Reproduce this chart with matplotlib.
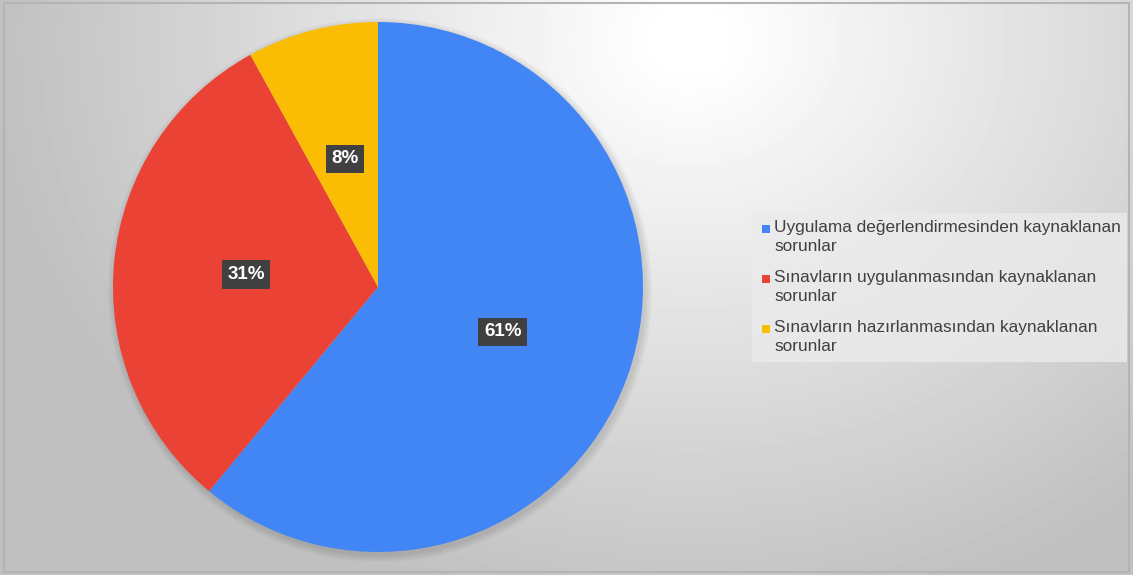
import numpy as np
import matplotlib.pyplot as plt
from matplotlib.patches import Rectangle, Circle

plt.rcParams['font.family'] = ['Liberation Sans', 'DejaVu Sans']

# Daten
kategorien = [
    "Uygulama değerlendirmesinden kaynaklanan\nsorunlar",
    "Sınavların uygulanmasından kaynaklanan\nsorunlar",
    "Sınavların hazırlanmasından kaynaklanan\nsorunlar",
]
anteile = [61, 31, 8]
farben = ['#4285F4', '#EA4335', '#FBBC04']

W, H = 1133, 575
fig = plt.figure(figsize=(W / 100, H / 100), dpi=100)
ax = fig.add_axes([0, 0, 1, 1])
ax.set_xlim(0, W)
ax.set_ylim(0, H)
ax.set_aspect('equal')
ax.axis('off')

# Hintergrund mit radialem Verlauf (hell oben Mitte-rechts)
xx, yy = np.meshgrid(np.arange(W), np.arange(H))
dist = np.sqrt((xx - 690) ** 2 + ((yy - 40) / 0.85) ** 2)
grau = np.clip(258 - dist * 0.095, 192, 255) / 255
ax.imshow(grau, cmap='gray', vmin=0, vmax=1, extent=[0, W, 0, H], origin='upper', zorder=0)
ax.add_patch(Rectangle((4, 3), W - 8, H - 6, fill=False, edgecolor='#b4b4b4', lw=1.5, zorder=1))

# weicher Schatten
cx, cy, r = 378, H - 287, 265
for i in range(5):
    ax.add_patch(Circle((cx + 2, cy - 3), r + 1 + i * 1.5, color='black', alpha=0.025, lw=0, zorder=1))

wedges, _, autotexts = ax.pie(anteile, colors=farben, startangle=90, counterclock=False,
                              center=(cx, cy), radius=r, autopct='%1.0f%%', pctdistance=0.5,
                              wedgeprops=dict(linewidth=0),
                              textprops=dict(color='white', fontsize=13.5, fontweight='bold'))
for t in autotexts:
    t.set_bbox(dict(boxstyle='square,pad=0.3', facecolor='#404040', edgecolor='none'))
ax.set_xlim(0, W)
ax.set_ylim(0, H)

# Legende
ax.add_patch(Rectangle((752, H - 362), 375, 149, facecolor='#ebebeb', edgecolor='none', alpha=0.8, zorder=2))
for i, (name, farbe) in enumerate(zip(kategorien, farben)):
    y = H - 229 - i * 50
    ax.add_patch(Rectangle((762, y - 4), 8, 8, facecolor=farbe, edgecolor='none', zorder=3))
    ax.text(774, y + 9, name, fontsize=12.4, color='#404040', va='top', ha='left',
            linespacing=1.3, zorder=3)

plt.savefig('out.png', dpi=100)
